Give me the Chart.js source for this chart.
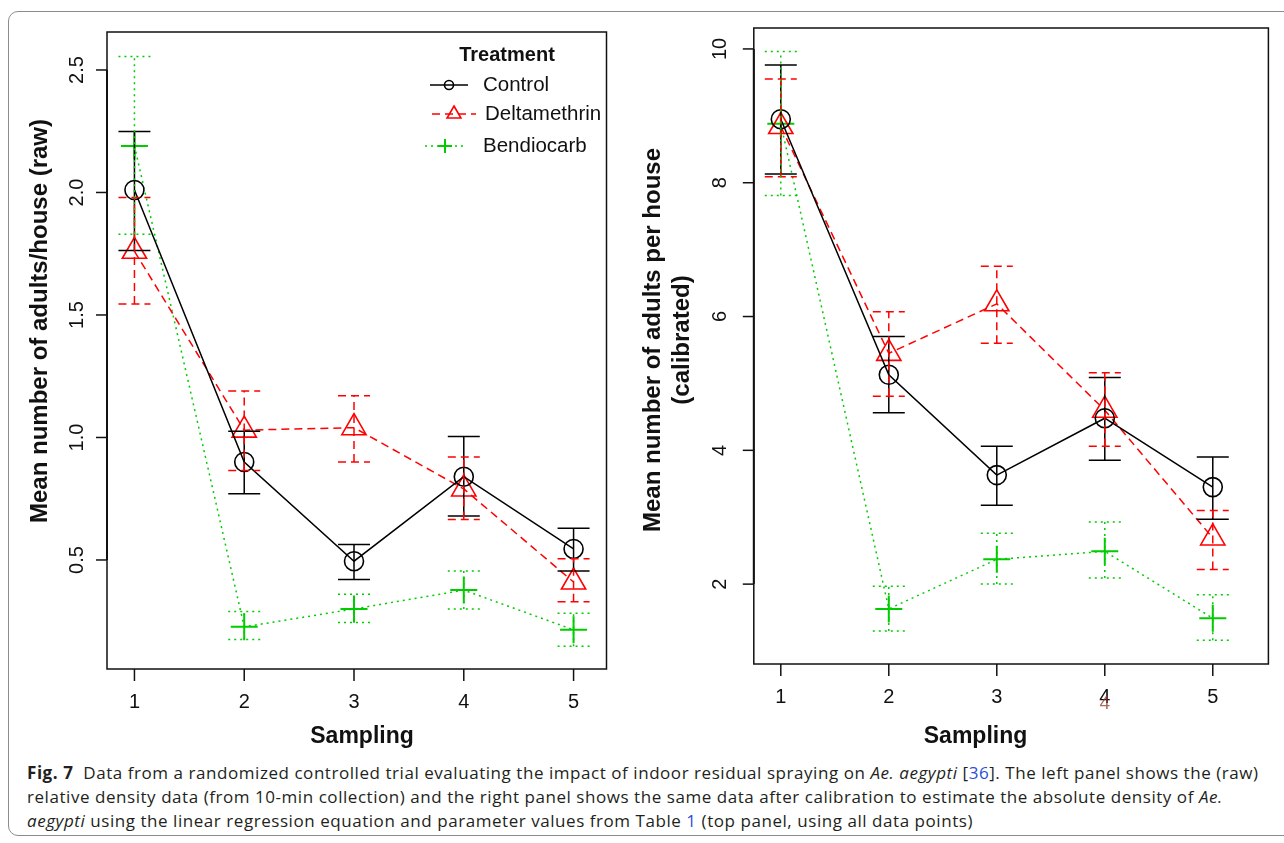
<!DOCTYPE html>
<html>
<head>
<meta charset="utf-8">
<script src="https://cdn.jsdelivr.net/npm/chart.js@4.4.0/dist/chart.umd.min.js"></script>
<style>
  body { margin: 0; background: #fff; width: 1284px; height: 843px; position: relative; overflow: hidden; }
  #frame { position: absolute; left: 8px; top: 11px; width: 1300px; height: 823px; border: 1.5px solid #8c8c8c; border-radius: 10px; }
  .panel { position: absolute; top: 0; height: 760px; }
  #leftPanel { left: 0; width: 640px; }
  #rightPanel { left: 640px; width: 644px; }
  #caption { position: absolute; left: 27px; top: 761px; font-family: "Open Sans", sans-serif; font-size: 17px; letter-spacing: 0.55px; line-height: 24px; color: #231f20; white-space: nowrap; }
  #caption .ref { color: #2b4fd8; }
</style>
</head>
<body>
<div id="frame"></div>
<div class="panel" id="leftPanel"><canvas id="rawChart" width="640" height="760"></canvas></div>
<div class="panel" id="rightPanel"><canvas id="calChart" width="644" height="760"></canvas></div>
<div id="caption">
  <b>Fig. 7</b>&nbsp; Data from a randomized controlled trial evaluating the impact of indoor residual spraying on <i>Ae. aegypti</i> [<span class="ref">36</span>]. The left panel shows the (raw)<br>
  relative density data (from 10-min collection) and the right panel shows the same data after calibration to estimate the absolute density of <i>Ae.</i><br>
  <i>aegypti</i> using the linear regression equation and parameter values from Table <span class="ref">1</span> (top panel, using all data points)
</div>

<script>
// sampling rounds and treatments
var sampling = [1, 2, 3, 4, 5];
var treatments = ['Control', 'Deltamethrin', 'Bendiocarb'];

// left panel: raw counts (mean, lower and upper error bar)
var rawTicks = [0.5, 1.0, 1.5, 2.0, 2.5];
var rawControl = [2.01, 0.90, 0.495, 0.84, 0.545];
var rawControlLo = [1.763, 0.77, 0.42, 0.68, 0.455];
var rawControlHi = [2.249, 1.025, 0.563, 1.004, 0.63];
var rawDelta = [1.76, 1.03, 1.04, 0.79, 0.41];
var rawDeltaLo = [1.545, 0.865, 0.90, 0.665, 0.33];
var rawDeltaHi = [1.98, 1.19, 1.17, 0.92, 0.505];
var rawBendio = [2.19, 0.227, 0.30, 0.377, 0.215];
var rawBendioLo = [1.83, 0.175, 0.245, 0.30, 0.148];
var rawBendioHi = [2.555, 0.29, 0.36, 0.455, 0.283];

// right panel: calibrated
var calTicks = [2, 4, 6, 8, 10];
var calControl = [8.95, 5.13, 3.63, 4.48, 3.45];
var calControlLo = [8.13, 4.56, 3.18, 3.85, 2.97];
var calControlHi = [9.76, 5.70, 4.06, 5.09, 3.90];
var calDelta = [8.84, 5.45, 6.19, 4.60, 2.69];
var calDeltaLo = [8.09, 4.81, 5.60, 4.06, 2.22];
var calDeltaHi = [9.55, 6.07, 6.75, 5.16, 3.10];
var calBendio = [8.88, 1.63, 2.37, 2.49, 1.49];
var calBendioLo = [7.81, 1.30, 2.00, 2.09, 1.16];
var calBendioHi = [9.96, 1.97, 2.76, 2.93, 1.84];

var styles = [
  { color: '#000000', dash: [], marker: 'circle', radius: 9.5, legRadius: 4.5 },
  { color: '#ff0000', dash: [8, 5], marker: 'triangle', radius: 14, legRadius: 8 },
  { color: '#00cc00', dash: [2, 4], marker: 'cross', radius: 13.5, legRadius: 7 }
];
var font = '"Liberation Sans", Arial, sans-serif';

function series(i, vals, lo, hi) {
  var s = styles[i];
  return {
    label: treatments[i],
    data: sampling.map(function(x, k) { return { x: x, y: vals[k] }; }),
    errLo: lo, errHi: hi,
    borderColor: s.color, borderDash: s.dash, borderWidth: 1.5,
    pointStyle: s.marker, pointRadius: s.radius, pointHoverRadius: s.radius,
    pointBorderColor: s.color, pointBackgroundColor: 'rgba(0,0,0,0)',
    pointBorderWidth: s.marker === 'cross' ? 2 : 1.6,
    fill: false, tension: 0
  };
}

function text(ctx, str, x, y, f, rot, align) {
  ctx.save();
  ctx.translate(x, y);
  if (rot) ctx.rotate(rot);
  ctx.font = f;
  ctx.textAlign = align || 'center';
  ctx.textBaseline = 'middle';
  ctx.fillStyle = '#111';
  ctx.fillText(str, 0, 0);
  ctx.restore();
}

function drawMarker(ctx, s, x, y) {
  ctx.save();
  ctx.strokeStyle = s.color;
  ctx.lineWidth = s.marker === 'cross' ? 2 : 1.6;
  ctx.setLineDash([]);
  Chart.helpers.drawPoint(ctx, { pointStyle: s.marker, radius: s.legRadius, rotation: 0, borderWidth: ctx.lineWidth }, x, y);
  ctx.restore();
}

// R-like axes, box, error bars and legend
var rStyle = {
  id: 'rStyle',
  afterDatasetsDraw: function(chart, args, o) {
    var ctx = chart.ctx, a = chart.chartArea, xs = chart.scales.x, ys = chart.scales.y;
    ctx.save();

    // error bars with caps
    chart.data.datasets.forEach(function(ds, i) {
      var s = styles[i];
      ctx.strokeStyle = s.color;
      ctx.lineWidth = 1.5;
      ctx.setLineDash(s.dash);
      ds.data.forEach(function(p, k) {
        var px = xs.getPixelForValue(p.x);
        var yl = ys.getPixelForValue(ds.errLo[k]);
        var yh = ys.getPixelForValue(ds.errHi[k]);
        ctx.beginPath();
        ctx.moveTo(px, yl); ctx.lineTo(px, yh);
        ctx.moveTo(px - 16, yl); ctx.lineTo(px + 16, yl);
        ctx.moveTo(px - 16, yh); ctx.lineTo(px + 16, yh);
        ctx.stroke();
      });
    });
    ctx.setLineDash([]);

    // box
    ctx.strokeStyle = '#111';
    ctx.lineWidth = 1.5;
    ctx.strokeRect(a.left, a.top, a.right - a.left, a.bottom - a.top);

    // y axis line spans first to last tick
    var yt = o.yTicks;
    ctx.lineWidth = 2;
    ctx.beginPath();
    ctx.moveTo(a.left, ys.getPixelForValue(yt[0]));
    ctx.lineTo(a.left, ys.getPixelForValue(yt[yt.length - 1]));
    ctx.stroke();
    ctx.lineWidth = 1.5;
    yt.forEach(function(v) {
      var py = ys.getPixelForValue(v);
      ctx.beginPath(); ctx.moveTo(a.left - 11, py); ctx.lineTo(a.left, py); ctx.stroke();
      text(ctx, o.yFmt(v), a.left - o.yLabelOff, py, '20px ' + font, -Math.PI / 2);
    });

    // x ticks hanging under the box
    sampling.forEach(function(v) {
      var px = xs.getPixelForValue(v);
      ctx.beginPath(); ctx.moveTo(px, a.bottom); ctx.lineTo(px, a.bottom + 12); ctx.stroke();
      text(ctx, String(v), px, a.bottom + 33, '20px ' + font);
    });

    // titles
    text(ctx, 'Sampling', o.xTitle[0], o.xTitle[1], 'bold 23px ' + font);
    o.yTitle.forEach(function(t) {
      text(ctx, t[0], t[1], t[2], 'bold 24px ' + font, -Math.PI / 2);
    });

    // legend
    if (o.legend) {
      var L = o.legend;
      text(ctx, 'Treatment', L.titleX, L.titleY, 'bold 20px ' + font);
      L.rows.forEach(function(r, i) {
        var s = styles[i];
        ctx.strokeStyle = s.color;
        ctx.lineWidth = 1.5;
        ctx.setLineDash(s.dash);
        ctx.beginPath(); ctx.moveTo(r.x0, r.y); ctx.lineTo(r.x1, r.y); ctx.stroke();
        ctx.setLineDash([]);
        drawMarker(ctx, s, (r.x0 + r.x1) / 2, r.y);
        text(ctx, treatments[i], r.tx, r.y, '20.5px ' + font, 0, 'left');
      });
    }

    // stray overprinted tick digit in the source figure
    if (o.ghost) {
      ctx.globalAlpha = 0.75;
      ctx.font = '19px ' + font;
      ctx.fillStyle = '#8b3a2e';
      ctx.textAlign = 'center';
      ctx.textBaseline = 'middle';
      ctx.fillText(o.ghost[0], xs.getPixelForValue(o.ghost[1]), a.bottom + 40);
    }
    ctx.restore();
  }
};

function makeChart(id, data, xMin, xMax, yMin, yMax, pad, deco) {
  return new Chart(document.getElementById(id).getContext('2d'), {
    type: 'line',
    data: { datasets: data },
    options: {
      responsive: false,
      animation: false,
      events: [],
      layout: { padding: pad },
      clip: false,
      scales: {
        x: { type: 'linear', min: xMin, max: xMax, display: false },
        y: { type: 'linear', min: yMin, max: yMax, display: false }
      },
      plugins: { legend: { display: false }, tooltip: { enabled: false }, rStyle: deco }
    },
    plugins: [rStyle]
  });
}

document.addEventListener('DOMContentLoaded', function() {
  // Left: raw
  makeChart('rawChart', [
    series(0, rawControl, rawControlLo, rawControlHi),
    series(1, rawDelta, rawDeltaLo, rawDeltaHi),
    series(2, rawBendio, rawBendioLo, rawBendioHi)
  ], 0.75, 5.30, 0.055, 2.655, { left: 107, right: 33.5, top: 32, bottom: 91 }, {
    yTicks: rawTicks,
    yFmt: function(v) { return v.toFixed(1); },
    yLabelOff: 29.5,
    xTitle: [362, 737],
    yTitle: [['Mean number of adults/house (raw)', 40, 321]],
    legend: {
      titleX: 507, titleY: 55,
      rows: [
        { x0: 430, x1: 468, y: 85, tx: 483 },
        { x0: 432, x1: 476, y: 114, tx: 485 },
        { x0: 425, x1: 465, y: 146, tx: 483 }
      ]
    }
  });

  // Right: calibrated
  makeChart('calChart', [
    series(0, calControl, calControlLo, calControlHi),
    series(1, calDelta, calDeltaLo, calDeltaHi),
    series(2, calBendio, calBendioLo, calBendioHi)
  ], 0.75, 5.515, 0.806, 10.313, { left: 113.8, right: 9, top: 28, bottom: 96 }, {
    yTicks: calTicks,
    yFmt: function(v) { return String(v); },
    yLabelOff: 33,
    xTitle: [335.5, 737],
    yTitle: [['Mean number of adults per house', 13, 340], ['(calibrated)', 42, 340]],
    ghost: ['4', 4]
  });
});
</script>
</body>
</html>
